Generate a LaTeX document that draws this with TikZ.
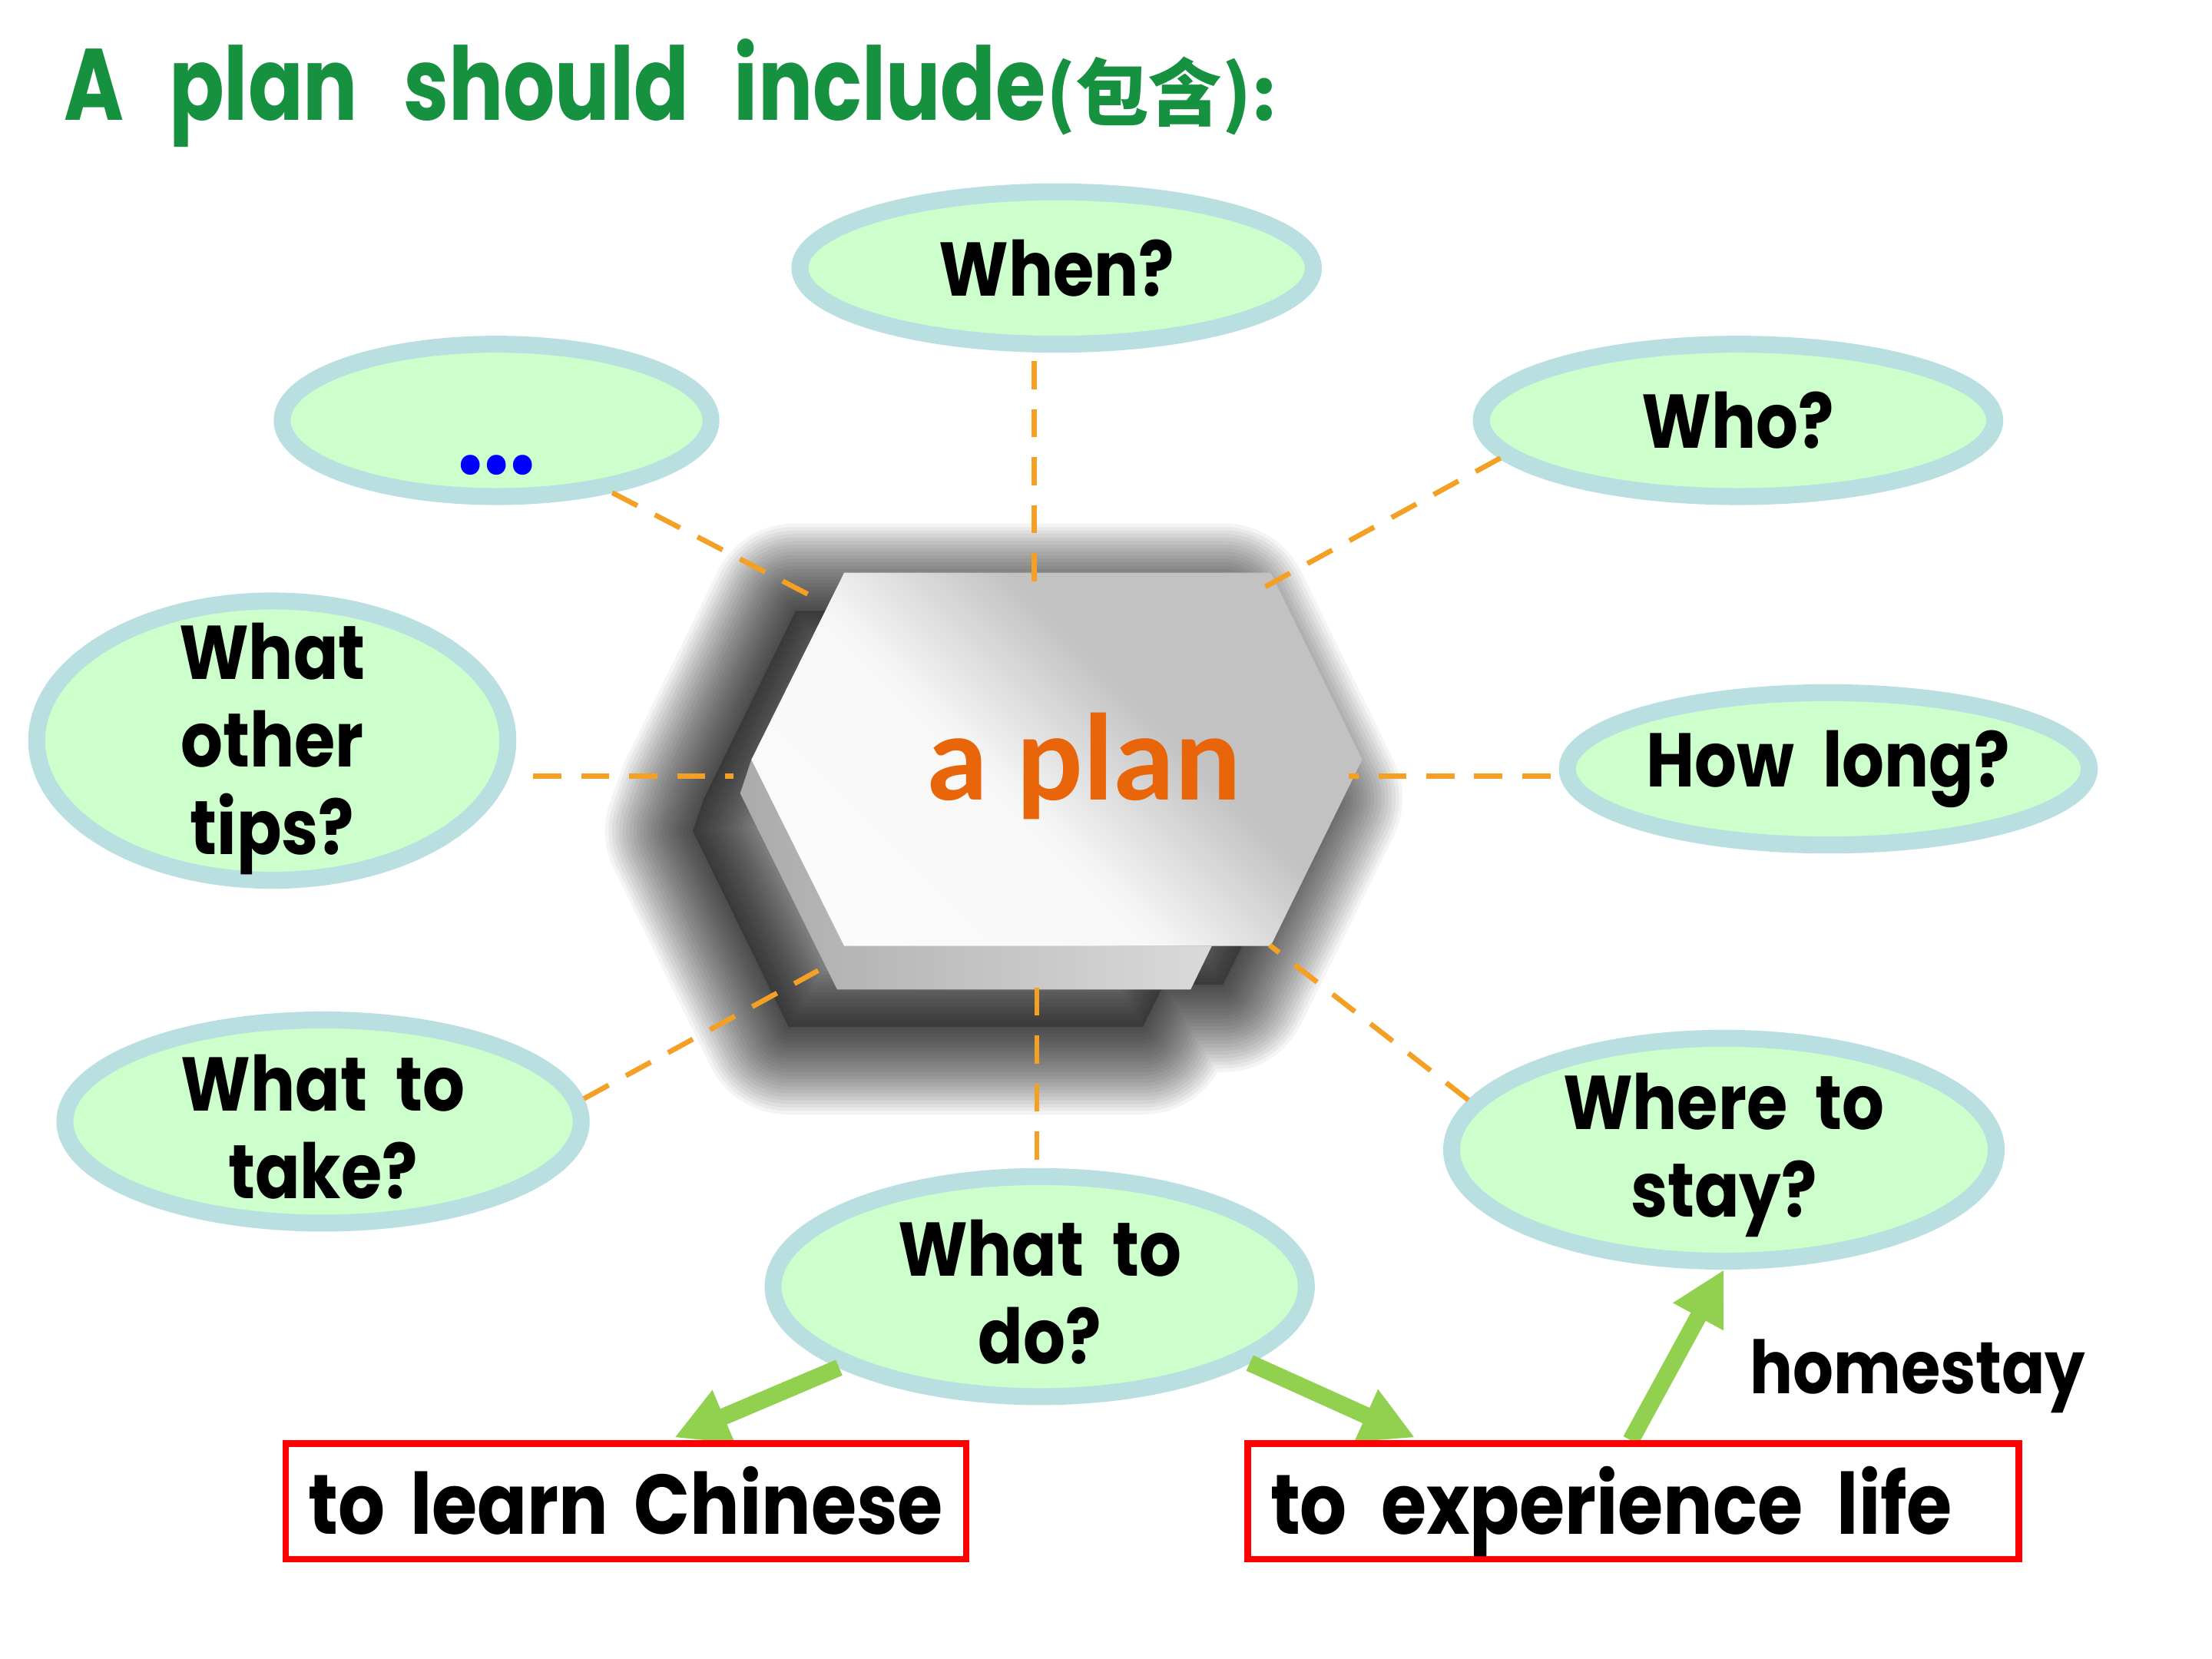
\documentclass[tikz,border=0pt]{standalone}
\usepackage{fontspec}
\usetikzlibrary{arrows.meta,shapes.geometric}
\newfontfamily\comic{Poppins}[FakeStretch=0.87]
\newfontfamily\comictitle{Poppins}[FakeStretch=0.80]
\newfontfamily\cjkfont{Noto Sans CJK SC}
\newfontfamily\calib{Carlito}
\newcommand\bubfont{\comic\bfseries\fontsize{27}{31}\selectfont\spaceskip 10pt\relax}
\newcommand\boxfont{\comic\bfseries\fontsize{30}{34}\selectfont}
\newcommand\titlefont{\comictitle\bfseries\fontsize{36}{40}\selectfont\spaceskip 16pt\relax}
\definecolor{bubfill}{HTML}{CCFFCC}
\definecolor{bubline}{HTML}{B9DFE1}
\definecolor{dashorange}{HTML}{F4A024}
\definecolor{arrgreen}{HTML}{92D050}
\definecolor{titlegreen}{HTML}{169140}
\definecolor{planorange}{HTML}{E8650A}
\definecolor{hexgray}{HTML}{C2C2C2}
\definecolor{sidedark}{HTML}{ABABAB}
\definecolor{sidelight}{HTML}{DADADA}
\pgfdeclareverticalshading{hexface}{100bp}{color(0bp)=(white); color(44bp)=(white!97!black); color(60bp)=(hexgray); color(100bp)=(hexgray)}
\begin{document}
\begin{tikzpicture}[x=0.5pt,y=-0.5pt,
  bubble/.style={ellipse, draw=bubline, fill=bubfill, line width=6pt, inner sep=0pt},
  bubtext/.style={font=\bubfont, align=center, text=black, inner sep=0pt},
  dashline/.style={draw=dashorange, line width=1.8pt, dash pattern=on 10pt off 7pt},
  garrow/.style={draw=arrgreen, line width=6pt, -{Triangle[length=19pt,width=19pt]}},
  redbox/.style={draw=red, line width=2.25pt, minimum height=41pt, inner xsep=8pt, inner ysep=0pt, text height=26pt, text depth=3pt, anchor=north west, font=\boxfont}
]
\useasboundingbox (0,0) rectangle (1568,1176);
\fill[white] (0,0) rectangle (1568,1176);

% title
\node[anchor=base west, inner sep=0pt, text=titlegreen, font=\titlefont] (title) at (45,85) {A plan should include{\cjkfont\fontsize{26}{28}\selectfont(包含):}};

% shadow of the hexagon
\foreach \w in {62,59.5,...,2} {
  \draw[black, opacity=0.042, line width=\w pt, line join=round]
    (564,433) -- (867,433) -- (932,566) -- (867,698) -- (825,698) -- (810,728) -- (559,728) -- (491,589) -- (499,566) -- cycle;
}
\fill[black, opacity=0.25] (564,433) -- (867,433) -- (932,566) -- (867,698) -- (825,698) -- (810,728) -- (559,728) -- (491,589) -- (499,566) -- cycle;

% bubbles
\node[bubble, minimum width=182pt, minimum height=54pt, label={[bubtext]center:When?}] (when) at (749,190) {};
\node[bubble, minimum width=152pt, minimum height=54pt, label={[bubtext, text=blue, yshift=-16pt]center:{\fontsize{38}{40}\selectfont...}}] (dots) at (352,298) {};
\node[bubble, minimum width=182pt, minimum height=54pt, label={[bubtext]center:Who?}] (who) at (1232,298) {};
\node[bubble, minimum width=167pt, minimum height=99pt, label={[bubtext, yshift=-3pt]center:What\\other\\tips?}] (tips) at (193,525) {};
\node[bubble, minimum width=185pt, minimum height=54pt, label={[bubtext]center:How long?}] (howlong) at (1296,545) {};
\node[bubble, minimum width=183pt, minimum height=72pt, label={[bubtext, yshift=-2pt]center:What to\\take?}] (take) at (229,795) {};
\node[bubble, minimum width=193pt, minimum height=79pt, label={[bubtext, yshift=-2pt]center:Where to\\stay?}] (stay) at (1222,815) {};
\node[bubble, minimum width=189pt, minimum height=78pt, label={[bubtext, yshift=-2pt]center:What to\\do?}] (do) at (737,912) {};

% hexagon (side and face)
\shade[left color=sidedark, right color=sidelight]
  (532.6,538.5) -- (524.7,562.4) -- (593.4,701.4) -- (844,701.4) -- (859,670.6) -- (598.4,670.6) -- cycle;
\shade[shading=hexface, shading angle=-45]
  (598.4,406) -- (900.7,406) -- (965.6,538.5) -- (900.7,670.6) -- (598.4,670.6) -- (532.6,538.5) -- cycle;
\node[anchor=base, inner sep=0pt, text=planorange, font=\calib\bfseries\fontsize{44}{50}\selectfont] (plan) at (768.5,567) {a plan};

% connector ends on the hexagon
\coordinate (hN) at (733,413);
\coordinate (hNW) at (580,425);
\coordinate (hNE) at (893,418);
\coordinate (hW) at (520,550);
\coordinate (hE) at (956,550);
\coordinate (hSW) at (580,688);
\coordinate (hSE) at (900,670);
\coordinate (hS) at (735,688);

\draw[dashline, shorten <=3pt] (hN |- when.south) -- (hN);
\draw[dashline] (dots.-32) -- (hNW);
\draw[dashline] (who.-171) -- (hNE);
\draw[dashline, shorten <=6pt] (tips.east |- hW) -- (hW);
\draw[dashline, shorten <=3pt] (howlong.west |- hE) -- (hE);
\draw[dashline] (take.5) -- (hSW);
\draw[dashline] (stay.169) -- (hSE);
\draw[dashline, shorten <=3pt] (hS |- do.north) -- (hS);

% green arrows
\coordinate (tipL) at (478,1019);
\coordinate (tipR) at (1003,1019);
\coordinate (upS) at (1156,1021);
\draw[garrow] (do.-158) -- (tipL);
\draw[garrow] (do.-20) -- (tipR);
\draw[garrow] (upS) -- (stay.south);

% boxes
\node[redbox, minimum width=241.25pt] (learn) at (200.25,1021) {\makebox[225.25pt][l]{\spaceskip 9pt\relax to learn Chinese}};
\node[redbox, minimum width=273.25pt] (life) at (882.25,1021) {\makebox[257.25pt][l]{\spaceskip 12pt\relax to experience life}};

\node[anchor=base west, inner sep=0pt, font=\comic\bfseries\fontsize{26}{30}\selectfont] (home) at (1240,988) {homestay};
\end{tikzpicture}
\end{document}
